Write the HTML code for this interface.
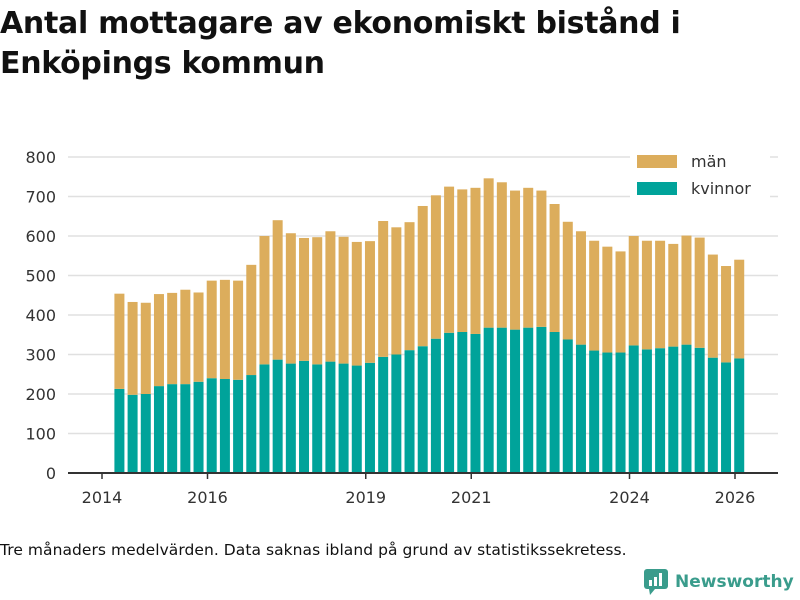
<!DOCTYPE html>
<html><head><meta charset="utf-8"><style>
body{margin:0;width:800px;height:600px;background:#fff;font-family:"DejaVu Sans","Liberation Sans",sans-serif;overflow:hidden;position:relative}
h1{position:absolute;left:0;top:4px;margin:0;font-size:30px;line-height:40px;font-weight:bold;color:#111;letter-spacing:-0.3px}
.foot{position:absolute;left:0;top:541px;font-size:15.5px;color:#111;letter-spacing:0.05px}
.logo{position:absolute;left:644px;top:569px;display:flex;align-items:center;gap:7px;color:#3a9c8c;font-size:17px;font-weight:bold}
</style></head><body>
<h1>Antal mottagare av ekonomiskt bistånd i<br>Enköpings kommun</h1>
<svg id="chart" width="800" height="600" style="position:absolute;left:0;top:0"></svg>
<div class="foot">Tre månaders medelvärden. Data saknas ibland på grund av statistikssekretess.</div>
<div class="logo"><svg width="24" height="26" viewBox="0 0 24 26"><rect x="0" y="0" width="24" height="20" rx="3" fill="#3a9c8c"/><polygon points="5,20 11,20 6,26" fill="#3a9c8c"/><rect x="5" y="11" width="3" height="6" fill="#fff"/><rect x="10" y="8" width="3" height="9" fill="#fff"/><rect x="15" y="4" width="3" height="13" fill="#fff"/></svg><span>Newsworthy</span></div>
<script>
const startYear = 2014.33;
const women = [213,198,200,220,225,225,231,240,238,236,248,275,287,277,284,275,282,277,272,279,294,300,311,321,340,355,357,352,368,368,363,368,370,357,338,325,310,305,305,323,313,316,320,325,317,292,280,290];
const men = [241,235,231,233,231,239,226,247,251,251,279,325,353,330,311,322,330,321,313,308,344,322,324,355,363,370,361,370,378,368,352,354,345,324,298,287,278,268,256,277,275,272,260,276,279,261,244,250];
const yTicks = [0,100,200,300,400,500,600,700,800];
const xTicks = [2014,2016,2019,2021,2024,2026];
const NS="http://www.w3.org/2000/svg";
const svg=document.getElementById('chart');
const X0=68,X1=778,Y0=473,Y800=157;
const y=v=>Y0-(v/800)*(Y0-Y800);
const x=t=>102+(t-2014)*52.75;
function mk(tag,attrs){const e=document.createElementNS(NS,tag);for(const k in attrs)e.setAttribute(k,attrs[k]);svg.appendChild(e);return e;}
yTicks.forEach(v=>{
  const g=mk('line',{x1:X0,x2:X1,y1:y(v),y2:y(v),stroke:'#e0e0e0','stroke-width':1.5});
  
  
  const t=mk('text',{x:56,y:y(v)+6,'text-anchor':'end','font-size':16,fill:'#333','font-family':'DejaVu Sans, sans-serif'});
  t.textContent=v;
  
  
});
women.forEach((w,i)=>{
  const t=startYear+i*0.25, cx=x(t), bw=10;
  const m=men[i];
  const r1=mk('rect',{x:cx-bw/2,y:y(w),width:bw,height:Y0-y(w),fill:'#00a39a'});
  
  
  const r2=mk('rect',{x:cx-bw/2,y:y(w+m),width:bw,height:y(w)-y(w+m),fill:'#dcad5c'});
  
  
});
const ax=mk('line',{x1:X0,x2:X1,y1:Y0,y2:Y0,stroke:'#333','stroke-width':2});


xTicks.forEach(v=>{
  const l=mk('line',{x1:x(v),x2:x(v),y1:Y0,y2:Y0+6,stroke:'#333','stroke-width':1.5});
  
  
  const t=mk('text',{x:x(v),y:Y0+30,'text-anchor':'middle','font-size':16,fill:'#333','font-family':'DejaVu Sans, sans-serif'});
  t.textContent=v;
  
  
});
[['män','#dcad5c',155],['kvinnor','#00a39a',182]].forEach(([n,c,yy])=>{
  const bg=mk('rect',{x:630,y:yy-6,width:140,height:24,fill:'#fff'});
  
  
  const r=mk('rect',{x:637,y:yy,width:40,height:13,fill:c});
  
  
  const t=mk('text',{x:691,y:yy+12,'font-size':16,fill:'#333','font-family':'DejaVu Sans, sans-serif'});
  t.textContent=n;
  
  
});
</script>
</body></html>
